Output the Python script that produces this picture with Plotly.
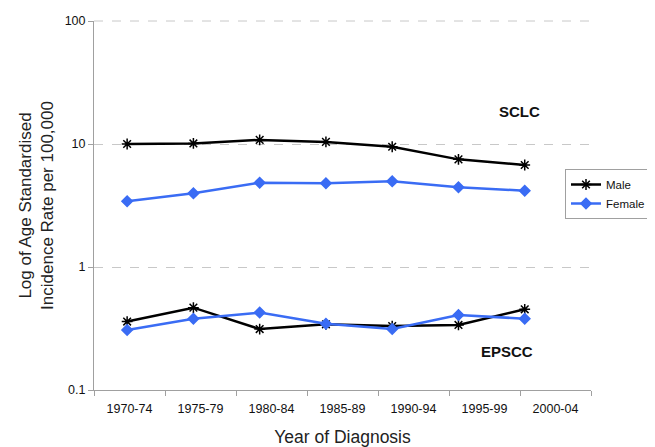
import plotly.graph_objects as go

categories = ["1970-74", "1975-79", "1980-84", "1985-89", "1990-94", "1995-99", "2000-04"]
sclc_male = [10.0, 10.1, 10.8, 10.4, 9.5, 7.5, 6.75]
sclc_female = [3.42, 3.97, 4.85, 4.8, 4.97, 4.45, 4.17]
epscc_male = [0.36, 0.467, 0.313, 0.342, 0.331, 0.338, 0.453]
epscc_female = [0.307, 0.38, 0.426, 0.346, 0.313, 0.407, 0.38]

idx = list(range(len(categories)))
BLACK = "#000000"
BLUE = "#3a6cf4"
FONT = "Liberation Sans, Arial, sans-serif"

fig = go.Figure()

def add(vals, name, color, symbol, size, show):
    fig.add_trace(go.Scatter(
        x=idx, y=vals, name=name, mode="lines+markers",
        xaxis="x2", showlegend=show, legendgroup=name,
        line=dict(color=color, width=2.5),
        marker=dict(symbol=symbol, size=size, color=color,
                    line=dict(color=color, width=1.5)),
    ))

add(sclc_male, "Male", BLACK, "asterisk-open", 9, True)
add(sclc_female, "Female", BLUE, "diamond", 8, True)
add(epscc_male, "Male", BLACK, "asterisk-open", 9, False)
add(epscc_female, "Female", BLUE, "diamond", 8, False)

# invisible trace to hold category axis labels
fig.add_trace(go.Scatter(x=categories, y=[None]*len(categories), showlegend=False,
                         hoverinfo="skip", mode="markers"))

W, H = 647, 439
# page body has an 8px margin, so the figure is sized/placed to compensate
fig.update_layout(
    width=W, height=H,
    margin=dict(l=86, r=64, t=13, b=57, autoexpand=False),
    paper_bgcolor="white", plot_bgcolor="white",
    font=dict(family=FONT, size=12.5, color="#111"),
    xaxis=dict(
        type="category", categoryorder="array", categoryarray=categories,
        range=[-0.5, 6.5], showgrid=False, zeroline=False, automargin=False,
        showline=True, linecolor="#a0a0a0", linewidth=1,
        ticks="outside", ticklen=5, tickcolor="#a0a0a0",
        tickson="boundaries", ticklabelstandoff=7,
        tickfont=dict(size=12.5, family=FONT, color="#111"),
        title=dict(text="Year of Diagnosis", font=dict(size=17.5, family=FONT, color="#222"), standoff=19),
    ),
    xaxis2=dict(overlaying="x", range=[-0.5, 7.0], visible=False),
    yaxis=dict(
        type="log", range=[-1, 2], automargin=False,
        tickvals=[0.1, 1, 10, 100], ticktext=["0.1", "1", "10", "100"],
        showgrid=True, gridcolor="#c8c8c8", griddash="dash", gridwidth=1,
        showline=True, linecolor="#a0a0a0", linewidth=1,
        ticks="outside", ticklen=5, tickcolor="#a0a0a0",
        zeroline=False,
        tickfont=dict(size=12.5, family=FONT, color="#111"),
        title=dict(text="Log of Age Standardised<br>Incidence Rate per 100,000",
                   font=dict(size=17, family=FONT, color="#222"), standoff=6),
    ),
    legend=dict(
        x=(565 - 94) / 497, y=(390 - 169) / 369, xanchor="left", yanchor="top",
        bgcolor="white", bordercolor="#a0a0a0", borderwidth=1,
        font=dict(size=11.5, family=FONT, color="#111"),
        itemwidth=30, tracegroupgap=0,
    ),
    shapes=[dict(type="line", xref="paper", yref="paper", x0=0, x1=1, y0=1, y1=1,
                 line=dict(color="#c8c8c8", width=1, dash="dash"))],
    annotations=[
        dict(text="<b>SCLC</b>", x=(519-94)/497, y=(390-111)/369, xref="paper", yref="paper",
             xanchor="center", yanchor="middle",
             showarrow=False, font=dict(size=15, family=FONT, color="#111")),
        dict(text="<b>EPSCC</b>", x=(507-94)/497, y=(390-351)/369, xref="paper", yref="paper",
             xanchor="center", yanchor="middle",
             showarrow=False, font=dict(size=15, family=FONT, color="#111")),
    ],
)

fig.write_html("out.html")
